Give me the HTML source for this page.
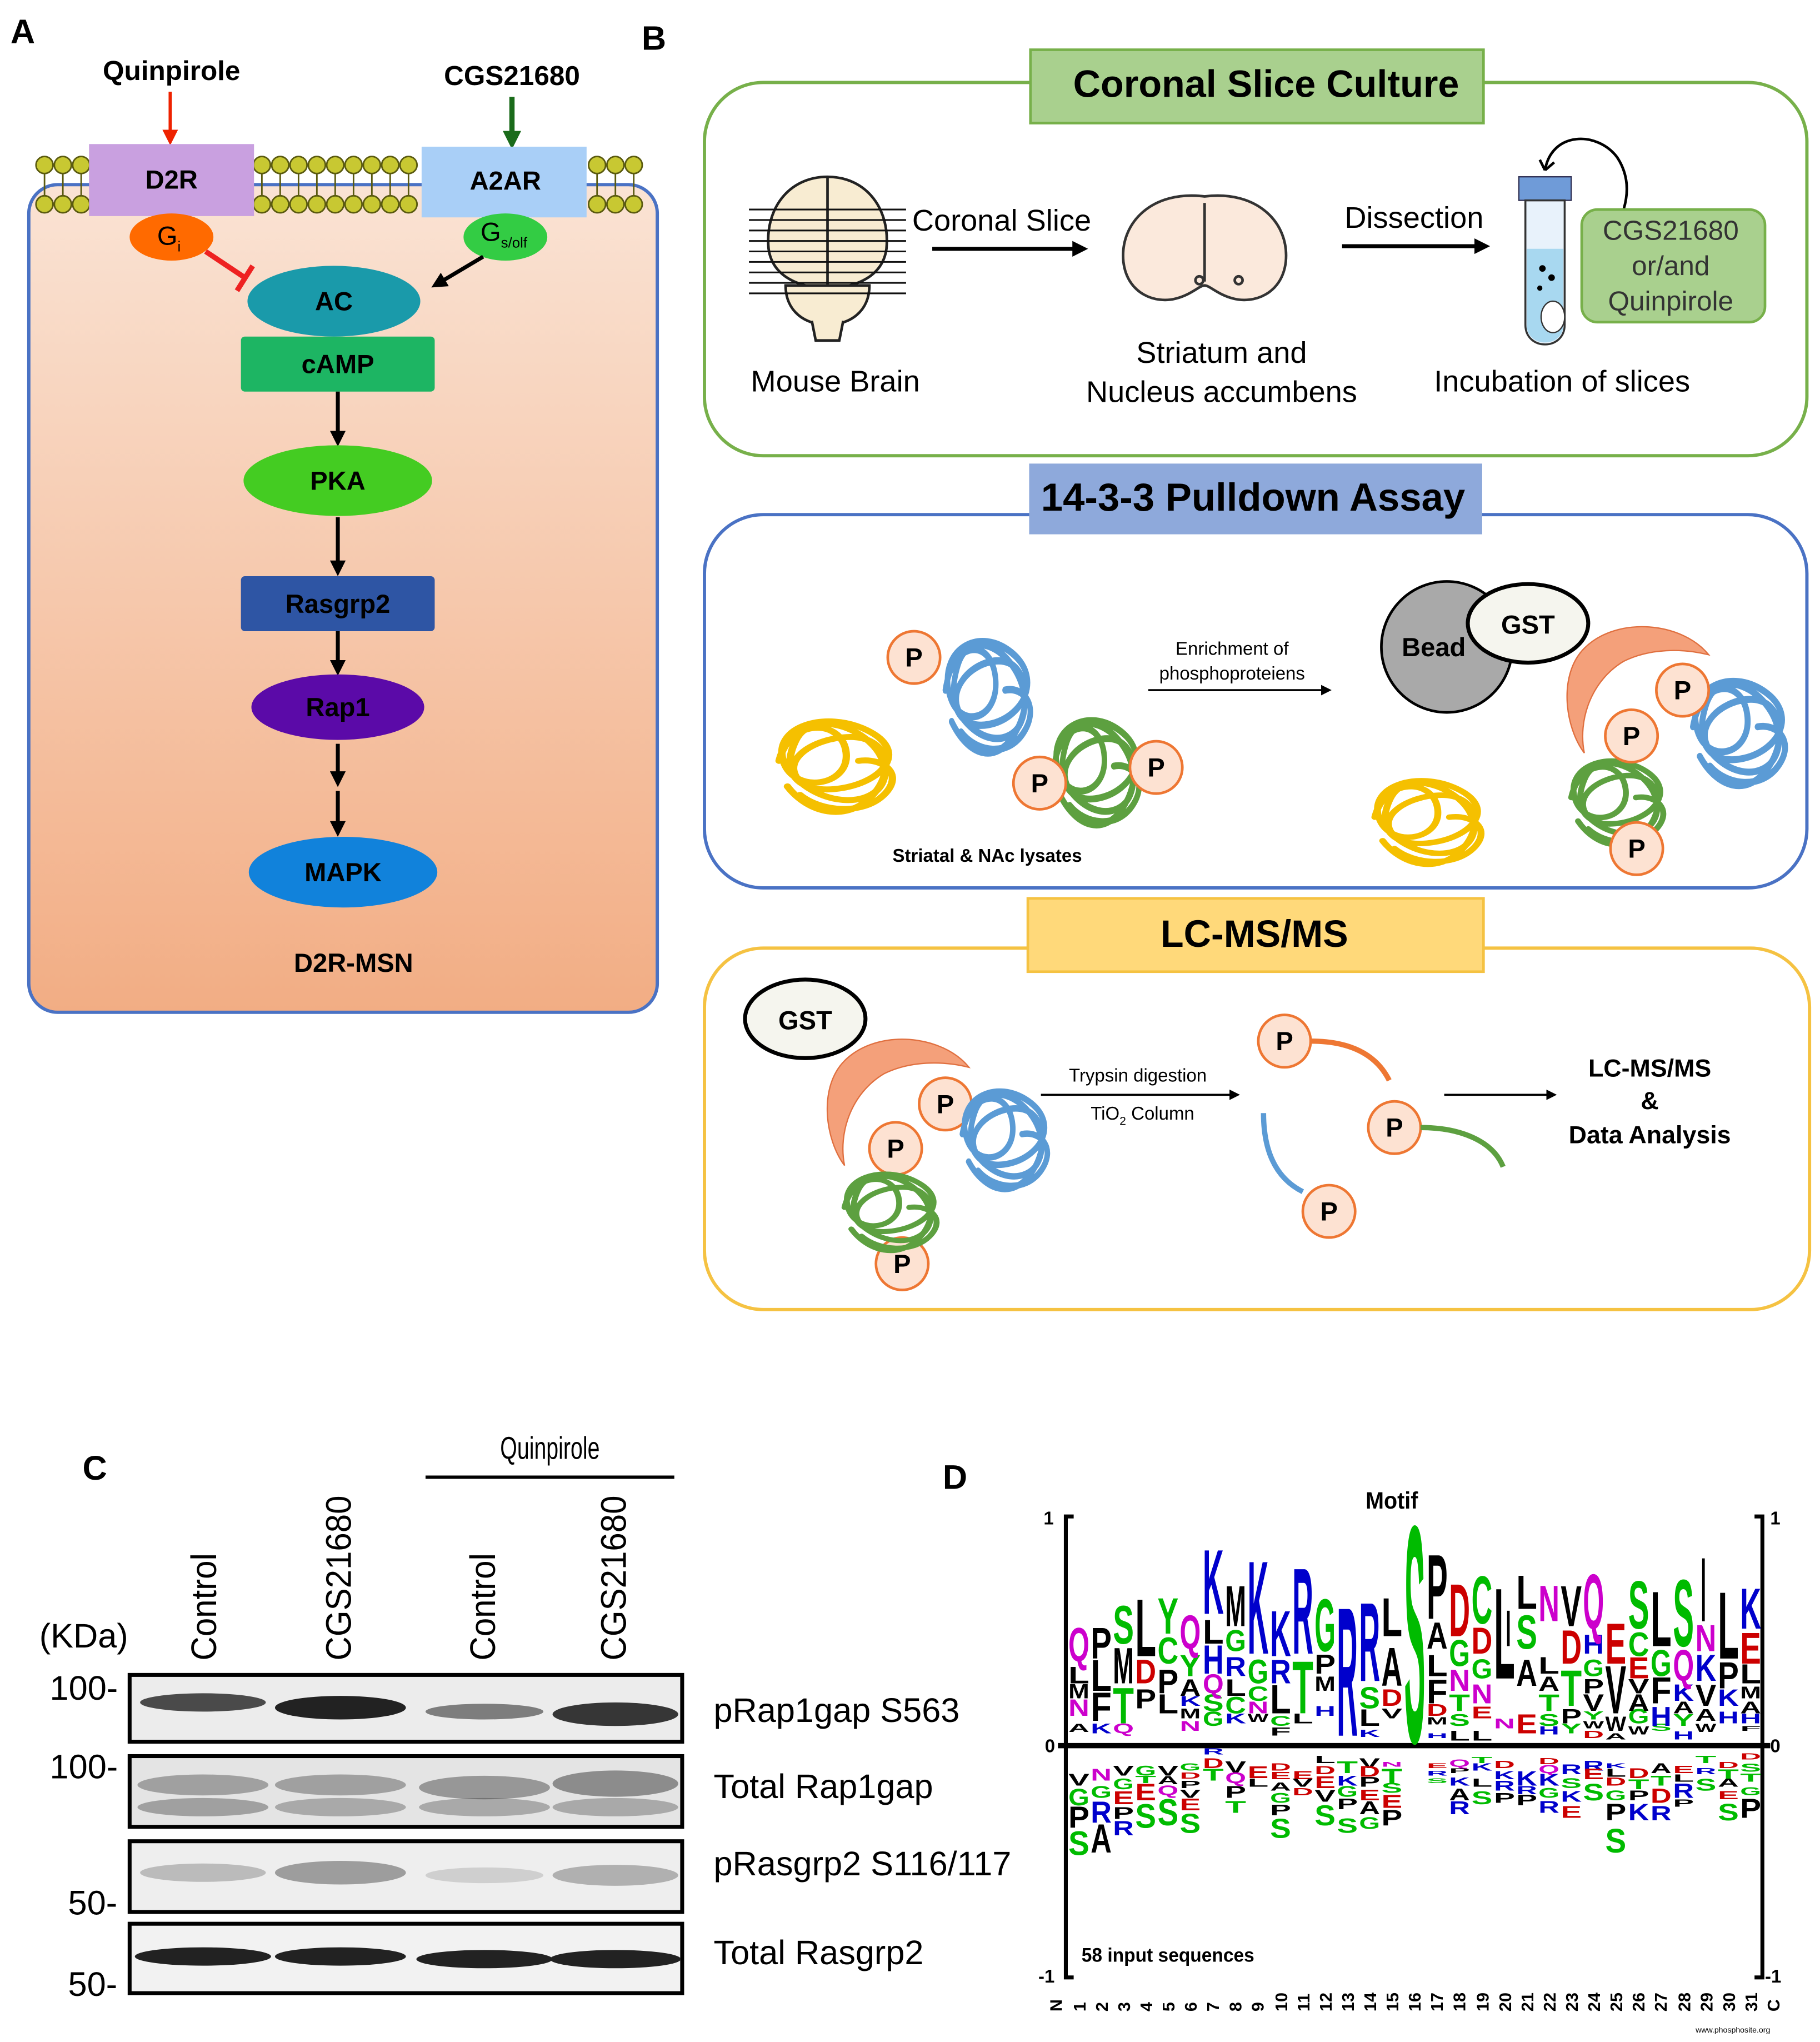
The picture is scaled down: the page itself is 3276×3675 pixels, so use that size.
<!DOCTYPE html>
<html><head><meta charset="utf-8"><style>
html,body{margin:0;padding:0;background:#fff}
svg{display:block}
text{font-family:"Liberation Sans",Arial,sans-serif}
.k{fill:#000}.b{fill:#0000cc}.g{fill:#00bb00}.r{fill:#cc0000}.m{fill:#cc00cc}
.lg text{font-weight:bold}
</style></head><body>
<svg width="3276" height="3675" viewBox="0 0 1390 1559.3" xmlns="http://www.w3.org/2000/svg">
<defs>
<linearGradient id="cell" x1="0" y1="0" x2="0" y2="1"><stop offset="0" stop-color="#fae3d4"/><stop offset="1" stop-color="#f2ad84"/></linearGradient>
<marker id="ak" markerWidth="8" markerHeight="8" refX="6" refY="4" orient="auto" markerUnits="userSpaceOnUse"><path d="M0,0 L8,4 L0,8 z" fill="#000"/></marker>
<marker id="ak2" markerWidth="12" markerHeight="12" refX="9" refY="6" orient="auto" markerUnits="userSpaceOnUse"><path d="M0,0 L12,6 L0,12 z" fill="#000"/></marker>
<marker id="ar" markerWidth="12" markerHeight="12" refX="9" refY="6" orient="auto" markerUnits="userSpaceOnUse"><path d="M0,0 L12,6 L0,12 z" fill="#ee2200"/></marker>
<marker id="ag" markerWidth="14" markerHeight="14" refX="10" refY="7" orient="auto" markerUnits="userSpaceOnUse"><path d="M0,0 L14,7 L0,14 z" fill="#1a6b1a"/></marker>
<path id="tang" d="M0,20 c5,-25 30,-25 32,-5 s-25,25 -30,5 s20,-30 40,-18 s8,30 -12,34 s-30,-8 -22,-28 s38,-6 42,14 s-18,28 -36,14 s2,-30 20,-30 s22,20 10,35 s-30,10 -40,-6 M10,40 c10,10 30,12 40,0 s0,-22 -12,-20" fill="none" stroke-width="3.5" stroke-linecap="round"/>
</defs>
<rect width="1390" height="1560" fill="#fff"/>

<!-- ============ PANEL A ============ -->
<text x="8" y="33" font-size="26" font-weight="bold">A</text>
<rect x="22" y="141" width="480" height="632" rx="22" fill="url(#cell)" stroke="#4a72c4" stroke-width="2.5"/>
<g stroke="#5a5a10" stroke-width="1.2" fill="#c8c832">
<g id="row1">
<circle cx="34" cy="126" r="6.5"/><circle cx="48" cy="126" r="6.5"/><circle cx="62" cy="126" r="6.5"/><circle cx="200" cy="126" r="6.5"/><circle cx="214" cy="126" r="6.5"/><circle cx="228" cy="126" r="6.5"/><circle cx="242" cy="126" r="6.5"/><circle cx="256" cy="126" r="6.5"/><circle cx="270" cy="126" r="6.5"/><circle cx="284" cy="126" r="6.5"/><circle cx="298" cy="126" r="6.5"/><circle cx="312" cy="126" r="6.5"/><circle cx="456" cy="126" r="6.5"/><circle cx="470" cy="126" r="6.5"/><circle cx="484" cy="126" r="6.5"/>
</g>
<use href="#row1" y="30"/>
</g>
<g stroke="#5a5a10" stroke-width="1.2">
<path d="M34,133v16M48,133v16M62,133v16M200,133v16M214,133v16M228,133v16M242,133v16M256,133v16M270,133v16M284,133v16M298,133v16M312,133v16M456,133v16M470,133v16M484,133v16"/>
</g>
<text x="131" y="61" font-size="21" font-weight="bold" text-anchor="middle">Quinpirole</text>
<text x="391" y="65" font-size="21" font-weight="bold" text-anchor="middle">CGS21680</text>
<line x1="130" y1="70" x2="130" y2="108" stroke="#ee2200" stroke-width="2.5" marker-end="url(#ar)"/>
<line x1="391" y1="74" x2="391" y2="110" stroke="#1a6b1a" stroke-width="4" marker-end="url(#ag)"/>
<rect x="68" y="110" width="126" height="55" fill="#c9a0e0"/>
<text x="131" y="144" font-size="20" font-weight="bold" text-anchor="middle">D2R</text>
<rect x="322" y="112" width="126" height="54" fill="#a9cff7"/>
<text x="386" y="145" font-size="20" font-weight="bold" text-anchor="middle">A2AR</text>
<ellipse cx="131" cy="181" rx="32" ry="18" fill="#ff6a00"/>
<text x="120" y="187" font-size="20">G<tspan font-size="11" dy="5">i</tspan></text>
<ellipse cx="386" cy="181" rx="32" ry="18" fill="#33cc44"/>
<text x="367" y="184" font-size="20">G<tspan font-size="11" dy="5">s/olf</tspan></text>
<line x1="157" y1="192" x2="187" y2="212" stroke="#ee2222" stroke-width="4"/>
<line x1="181" y1="222" x2="193" y2="203" stroke="#ee2222" stroke-width="4"/>
<line x1="369" y1="196" x2="332" y2="218" stroke="#000" stroke-width="3" marker-end="url(#ak2)"/>
<ellipse cx="255" cy="230" rx="66" ry="27" fill="#1a9aaa"/>
<text x="255" y="237" font-size="20" font-weight="bold" text-anchor="middle">AC</text>
<rect x="184" y="257" width="148" height="42" rx="3" fill="#1db563"/>
<text x="258" y="285" font-size="20" font-weight="bold" text-anchor="middle">cAMP</text>
<line x1="258" y1="299" x2="258" y2="338" stroke="#000" stroke-width="3" marker-end="url(#ak2)"/>
<ellipse cx="258" cy="367" rx="72" ry="27" fill="#44cc22"/>
<text x="258" y="374" font-size="20" font-weight="bold" text-anchor="middle">PKA</text>
<line x1="258" y1="395" x2="258" y2="437" stroke="#000" stroke-width="3" marker-end="url(#ak2)"/>
<rect x="184" y="440" width="148" height="42" rx="3" fill="#2e55a4"/>
<text x="258" y="468" font-size="20" font-weight="bold" text-anchor="middle">Rasgrp2</text>
<line x1="258" y1="482" x2="258" y2="513" stroke="#000" stroke-width="3" marker-end="url(#ak2)"/>
<ellipse cx="258" cy="540" rx="66" ry="25" fill="#5b0aa8"/>
<text x="258" y="547" font-size="20" font-weight="bold" text-anchor="middle">Rap1</text>
<line x1="258" y1="568" x2="258" y2="598" stroke="#000" stroke-width="3" marker-end="url(#ak2)"/>
<line x1="258" y1="604" x2="258" y2="636" stroke="#000" stroke-width="3" marker-end="url(#ak2)"/>
<ellipse cx="262" cy="666" rx="72" ry="27" fill="#1182db"/>
<text x="262" y="673" font-size="20" font-weight="bold" text-anchor="middle">MAPK</text>
<text x="270" y="742" font-size="20" font-weight="bold" text-anchor="middle">D2R-MSN</text>

<!-- ============ PANEL B ============ -->
<text x="490" y="38" font-size="26" font-weight="bold">B</text>
<rect x="538" y="63" width="842" height="285" rx="45" fill="none" stroke="#77b04a" stroke-width="2.5"/>
<rect x="787" y="38" width="346" height="56" fill="#a9d08e" stroke="#77b04a" stroke-width="2"/>
<text x="967" y="74" font-size="29" font-weight="bold" text-anchor="middle">Coronal Slice Culture</text>
<!-- brain -->
<g stroke="#222" stroke-width="2" fill="#f8ecd2">
<path d="M632,135 c-30,0 -48,25 -45,55 c3,22 25,30 45,30 c20,0 42,-8 45,-30 c3,-30 -15,-55 -45,-55z"/>
<line x1="632" y1="135" x2="632" y2="220"/>
<path d="M600,218 c0,20 15,30 32,30 c17,0 32,-10 32,-30z"/>
<path d="M620,245 l3,15 l18,0 l3,-15"/>
</g>
<g stroke="#111" stroke-width="1.3">
<path d="M572,160H692M572,168H692M572,176H692M572,184H692M572,192H692M572,200H692M572,208H692M572,216H692M572,224H692"/>
</g>
<text x="765" y="176" font-size="23" text-anchor="middle">Coronal Slice</text>
<line x1="712" y1="190" x2="828" y2="190" stroke="#000" stroke-width="3" marker-end="url(#ak2)"/>
<text x="638" y="299" font-size="23" text-anchor="middle">Mouse Brain</text>
<g stroke="#333" stroke-width="2" fill="#fbe9dc">
<path d="M920,150 c-40,-5 -65,20 -62,50 c3,25 25,32 40,28 c12,-3 18,-10 22,-10 c4,0 10,7 22,10 c15,4 37,-3 40,-28 c3,-30 -22,-55 -62,-50z"/>
<path d="M920,155 v60" fill="none"/>
<circle cx="916" cy="214" r="3"/><circle cx="946" cy="214" r="3"/>
</g>
<text x="933" y="277" font-size="23" text-anchor="middle">Striatum and</text>
<text x="933" y="307" font-size="23" text-anchor="middle">Nucleus accumbens</text>
<text x="1080" y="174" font-size="23" text-anchor="middle">Dissection</text>
<line x1="1025" y1="188" x2="1135" y2="188" stroke="#000" stroke-width="3" marker-end="url(#ak2)"/>
<!-- tube -->
<rect x="1160" y="135" width="40" height="18" fill="#6f9bd8" stroke="#335" stroke-width="1"/>
<path d="M1165,153 v95 c0,20 30,20 30,0 v-95z" fill="#e8f2fb" stroke="#333" stroke-width="1.5"/>
<path d="M1166,190 v58 c0,18 28,18 28,0 v-58z" fill="#a8d8f0"/>
<circle cx="1178" cy="205" r="2.5"/><circle cx="1185" cy="212" r="2.5"/><circle cx="1176" cy="220" r="2"/>
<ellipse cx="1186" cy="242" rx="9" ry="12" fill="#fff" stroke="#333"/>
<path d="M1180,130 c5,-30 40,-30 55,-10 c10,15 8,30 5,40" fill="none" stroke="#000" stroke-width="2"/>
<path d="M1180,130 l-4,-8 M1180,130 l7,-6" stroke="#000" stroke-width="2"/>
<rect x="1208" y="160" width="140" height="86" rx="12" fill="#a9d08e" stroke="#77b04a" stroke-width="2"/>
<text x="1276" y="183" font-size="21" fill="#333" text-anchor="middle">CGS21680</text>
<text x="1276" y="210" font-size="21" fill="#333" text-anchor="middle">or/and</text>
<text x="1276" y="237" font-size="21" fill="#333" text-anchor="middle">Quinpirole</text>
<text x="1193" y="299" font-size="23" text-anchor="middle">Incubation of slices</text>

<!-- Pulldown -->
<rect x="538" y="393" width="842" height="285" rx="45" fill="none" stroke="#4a72c4" stroke-width="2.5"/>
<rect x="786" y="354" width="346" height="54" fill="#8ea9db"/>
<text x="957" y="390" font-size="30" font-weight="bold" text-anchor="middle">14-3-3 Pulldown Assay</text>
<use href="#tang" stroke="#f5c000" transform="translate(595,555) scale(1.6,1.3)"/>
<use href="#tang" stroke="#5b9bd5" transform="translate(722,495) scale(1.2,1.6)"/>
<use href="#tang" stroke="#5da040" transform="translate(805,555) scale(1.2,1.5)"/>
<use href="#tang" stroke="#f5c000" transform="translate(1050,600) scale(1.5,1.2)"/>
<use href="#tang" stroke="#5b9bd5" transform="translate(1293,525) scale(1.3,1.5)"/>
<use href="#tang" stroke="#5da040" transform="translate(1200,585) scale(1.3,1.2)"/>
<text x="754" y="658" font-size="14" font-weight="bold" text-anchor="middle">Striatal &amp; NAc lysates</text>
<text x="941" y="500" font-size="14" text-anchor="middle">Enrichment of</text>
<text x="941" y="519" font-size="14" text-anchor="middle">phosphoproteiens</text>
<line x1="877" y1="527" x2="1015" y2="527" stroke="#000" stroke-width="1.5" marker-end="url(#ak)"/>
<circle cx="1105" cy="494" r="50" fill="#a9a9a9" stroke="#000" stroke-width="2"/>
<text x="1095" y="501" font-size="20" font-weight="bold" text-anchor="middle">Bead</text>
<ellipse cx="1167" cy="476" rx="46" ry="30" fill="#f5f5ee" stroke="#000" stroke-width="3"/>
<text x="1167" y="484" font-size="20" font-weight="bold" text-anchor="middle">GST</text>
<path d="M1305,500 c-20,-25 -70,-30 -95,-5 c-20,20 -15,60 0,80 c-5,-25 5,-55 30,-70 c20,-10 45,-10 65,-5z" fill="#f4a07a" stroke="#e07040"/>
<g stroke="#ee7733" stroke-width="2" fill="#fde2d2">
<circle cx="698" cy="502" r="20"/><circle cx="794" cy="598" r="20"/><circle cx="883" cy="586" r="20"/>
<circle cx="1285" cy="527" r="20"/><circle cx="1246" cy="562" r="20"/><circle cx="1250" cy="648" r="20"/>
<circle cx="981" cy="795" r="20"/><circle cx="1065" cy="861" r="20"/><circle cx="1015" cy="925" r="20"/>
<circle cx="722" cy="843" r="20"/><circle cx="684" cy="877" r="20"/><circle cx="689" cy="965" r="20"/>
</g>
<g font-size="20" font-weight="bold" text-anchor="middle">
<text x="698" y="509">P</text><text x="794" y="605">P</text><text x="883" y="593">P</text>
<text x="1285" y="534">P</text><text x="1246" y="569">P</text><text x="1250" y="655">P</text>
<text x="981" y="802">P</text><text x="1065" y="868">P</text><text x="1015" y="932">P</text>
<text x="722" y="850">P</text><text x="684" y="884">P</text><text x="689" y="972">P</text>
</g>

<!-- LC-MS -->
<rect x="538" y="724" width="844" height="276" rx="45" fill="none" stroke="#f5c242" stroke-width="2.5"/>
<rect x="785" y="686" width="348" height="56" fill="#ffd97a" stroke="#f5c242" stroke-width="2"/>
<text x="958" y="723" font-size="29" font-weight="bold" text-anchor="middle">LC-MS/MS</text>
<ellipse cx="615" cy="778" rx="46" ry="30" fill="#f5f5ee" stroke="#000" stroke-width="3"/>
<text x="615" y="786" font-size="20" font-weight="bold" text-anchor="middle">GST</text>
<path d="M710,815 c-20,-25 -70,-30 -95,-5 c-20,20 -15,60 0,80 c-5,-25 5,-55 30,-70 c20,-10 45,-10 65,-5z" fill="#f4a07a" stroke="#e07040" transform="translate(30,0)"/>
<use href="#tang" stroke="#5b9bd5" transform="translate(735,838) scale(1.2,1.4)"/>
<use href="#tang" stroke="#5da040" transform="translate(645,900) scale(1.3,1.1)"/>
<text x="869" y="826" font-size="14" text-anchor="middle">Trypsin digestion</text>
<line x1="795" y1="836" x2="945" y2="836" stroke="#000" stroke-width="1.5" marker-end="url(#ak)"/>
<text x="833" y="855" font-size="14">TiO<tspan font-size="9" dy="4">2</tspan><tspan dy="-4"> Column</tspan></text>
<path d="M1001,795 c30,0 50,10 60,30" fill="none" stroke="#ee7733" stroke-width="4"/>
<path d="M1085,861 c30,0 55,10 63,30" fill="none" stroke="#5da040" stroke-width="4"/>
<path d="M965,850 c0,30 10,50 30,60" fill="none" stroke="#5b9bd5" stroke-width="4"/>
<line x1="1103" y1="836" x2="1187" y2="836" stroke="#000" stroke-width="1.5" marker-end="url(#ak)"/>
<text x="1260" y="822" font-size="19" font-weight="bold" text-anchor="middle">LC-MS/MS</text>
<text x="1260" y="847" font-size="19" font-weight="bold" text-anchor="middle">&amp;</text>
<text x="1260" y="873" font-size="19" font-weight="bold" text-anchor="middle">Data Analysis</text>

<!-- ============ PANEL C ============ -->
<text x="63" y="1130" font-size="26" font-weight="bold">C</text>
<text x="420" y="1114" font-size="24" text-anchor="middle" textLength="76" lengthAdjust="spacingAndGlyphs">Quinpirole</text>
<line x1="325" y1="1128" x2="515" y2="1128" stroke="#000" stroke-width="2.5"/>
<g font-size="27">
<text transform="translate(165,1268) rotate(-90)" textLength="82" lengthAdjust="spacingAndGlyphs">Control</text>
<text transform="translate(268,1268) rotate(-90)" textLength="126" lengthAdjust="spacingAndGlyphs">CGS21680</text>
<text transform="translate(378,1268) rotate(-90)" textLength="82" lengthAdjust="spacingAndGlyphs">Control</text>
<text transform="translate(478,1268) rotate(-90)" textLength="126" lengthAdjust="spacingAndGlyphs">CGS21680</text>
</g>
<text x="30" y="1258" font-size="26">(KDa)</text>
<rect x="99" y="1279" width="422" height="51" fill="#ececec" stroke="#000" stroke-width="3"/>
<rect x="99" y="1341" width="422" height="54" fill="#e4e4e4" stroke="#000" stroke-width="3"/>
<rect x="99" y="1406" width="422" height="54" fill="#eeeeee" stroke="#000" stroke-width="3"/>
<rect x="99" y="1469" width="422" height="53" fill="#f2f2f2" stroke="#000" stroke-width="3"/>
<g fill="#222">
<ellipse cx="155" cy="1300" rx="48" ry="7" opacity="0.8"/><ellipse cx="260" cy="1304" rx="50" ry="9"/><ellipse cx="370" cy="1307" rx="45" ry="6" opacity="0.55"/><ellipse cx="470" cy="1309" rx="48" ry="9" opacity="0.9"/>
<ellipse cx="155" cy="1363" rx="50" ry="8" opacity="0.35"/><ellipse cx="260" cy="1363" rx="50" ry="8" opacity="0.35"/><ellipse cx="370" cy="1365" rx="50" ry="9" opacity="0.4"/><ellipse cx="470" cy="1362" rx="48" ry="10" opacity="0.45"/>
<ellipse cx="155" cy="1380" rx="50" ry="7" opacity="0.35"/><ellipse cx="260" cy="1380" rx="50" ry="7" opacity="0.3"/><ellipse cx="370" cy="1380" rx="50" ry="7" opacity="0.3"/><ellipse cx="470" cy="1380" rx="48" ry="7" opacity="0.3"/>
<ellipse cx="155" cy="1430" rx="48" ry="7" opacity="0.25"/><ellipse cx="260" cy="1430" rx="50" ry="9" opacity="0.4"/><ellipse cx="370" cy="1432" rx="45" ry="6" opacity="0.15"/><ellipse cx="470" cy="1432" rx="48" ry="8" opacity="0.3"/>
<ellipse cx="155" cy="1494" rx="52" ry="7"/><ellipse cx="260" cy="1494" rx="50" ry="7"/><ellipse cx="370" cy="1496" rx="52" ry="7"/><ellipse cx="470" cy="1496" rx="50" ry="7"/>
</g>
<g font-size="26">
<text x="38" y="1298">100-</text><text x="38" y="1358">100-</text><text x="52" y="1462">50-</text><text x="52" y="1524">50-</text>
<text x="545" y="1315">pRap1gap S563</text><text x="545" y="1373">Total Rap1gap</text><text x="545" y="1432">pRasgrp2 S116/117</text><text x="545" y="1500">Total Rasgrp2</text>
</g>

<!-- ============ PANEL D ============ -->
<text x="720" y="1137" font-size="26" font-weight="bold">D</text>
<text x="1063" y="1152" font-size="18" font-weight="bold" font-family="Liberation Serif,serif" text-anchor="middle" textLength="40" lengthAdjust="spacingAndGlyphs">Motif</text>
<g stroke="#000" fill="none">
<path d="M820,1158 H814 V1510 H820" stroke-width="3"/>
<path d="M1340,1158 H1346 V1510 H1340" stroke-width="3"/>
<line x1="808" y1="1333" x2="1352" y2="1333" stroke-width="4"/>
</g>
<g font-size="14" font-weight="bold">
<text x="797" y="1164">1</text><text x="1352" y="1164">1</text>
<text x="798" y="1338">0</text><text x="1352" y="1338">0</text>
<text x="793" y="1514">-1</text><text x="1348" y="1514">-1</text>
</g>
<text x="826" y="1498" font-size="15" font-weight="bold" textLength="132" lengthAdjust="spacingAndGlyphs">58 input sequences</text>
<g font-size="13" font-weight="bold">
<text transform="translate(811,1536) rotate(-90)">N</text>
<text transform="translate(829,1536) rotate(-90)">1</text><text transform="translate(846,1536) rotate(-90)">2</text><text transform="translate(863,1536) rotate(-90)">3</text><text transform="translate(880,1536) rotate(-90)">4</text><text transform="translate(897,1536) rotate(-90)">5</text><text transform="translate(914,1536) rotate(-90)">6</text><text transform="translate(931,1536) rotate(-90)">7</text><text transform="translate(948,1536) rotate(-90)">8</text><text transform="translate(965,1536) rotate(-90)">9</text><text transform="translate(983,1536) rotate(-90)">10</text><text transform="translate(1000,1536) rotate(-90)">11</text><text transform="translate(1017,1536) rotate(-90)">12</text><text transform="translate(1034,1536) rotate(-90)">13</text><text transform="translate(1051,1536) rotate(-90)">14</text><text transform="translate(1068,1536) rotate(-90)">15</text><text transform="translate(1085,1536) rotate(-90)">16</text><text transform="translate(1102,1536) rotate(-90)">17</text><text transform="translate(1119,1536) rotate(-90)">18</text><text transform="translate(1137,1536) rotate(-90)">19</text><text transform="translate(1154,1536) rotate(-90)">20</text><text transform="translate(1171,1536) rotate(-90)">21</text><text transform="translate(1188,1536) rotate(-90)">22</text><text transform="translate(1205,1536) rotate(-90)">23</text><text transform="translate(1222,1536) rotate(-90)">24</text><text transform="translate(1239,1536) rotate(-90)">25</text><text transform="translate(1256,1536) rotate(-90)">26</text><text transform="translate(1273,1536) rotate(-90)">27</text><text transform="translate(1291,1536) rotate(-90)">28</text><text transform="translate(1308,1536) rotate(-90)">29</text><text transform="translate(1325,1536) rotate(-90)">30</text><text transform="translate(1342,1536) rotate(-90)">31</text>
<text transform="translate(1359,1536) rotate(-90)">C</text>
</g>
<text x="1295" y="1552" font-size="6">www.phosphosite.org</text>
<line x1="1152" y1="1230" x2="1152" y2="1257" stroke="#000" stroke-width="2"/>
<line x1="1301" y1="1190" x2="1301" y2="1238" stroke="#000" stroke-width="2"/>

<g class="lg" transform="translate(0,1125.9) scale(1,0.19)">
<!-- C1 -->
<text class="k" x="816" y="1035" font-size="48" textLength="16" lengthAdjust="spacingAndGlyphs">A</text>
<text class="m" x="816" y="970" font-size="96" textLength="16" lengthAdjust="spacingAndGlyphs">N</text>
<text class="k" x="816" y="900" font-size="82" textLength="16" lengthAdjust="spacingAndGlyphs">M</text>
<text class="k" x="816" y="840" font-size="96" textLength="16" lengthAdjust="spacingAndGlyphs">L</text>
<text class="m" x="816" y="750" font-size="192" textLength="16" lengthAdjust="spacingAndGlyphs">Q</text>
<text class="k" x="816" y="1250" font-size="68" textLength="16" lengthAdjust="spacingAndGlyphs">V</text>
<text class="g" x="816" y="1330" font-size="96" textLength="16" lengthAdjust="spacingAndGlyphs">G</text>
<text class="k" x="816" y="1420" font-size="123" textLength="16" lengthAdjust="spacingAndGlyphs">P</text>
<text class="g" x="816" y="1530" font-size="137" textLength="16" lengthAdjust="spacingAndGlyphs">S</text>
<!-- C2 -->
<text class="b" x="833" y="1040" font-size="55" textLength="16" lengthAdjust="spacingAndGlyphs">K</text>
<text class="k" x="833" y="990" font-size="164" textLength="16" lengthAdjust="spacingAndGlyphs">F</text>
<text class="k" x="833" y="870" font-size="178" textLength="16" lengthAdjust="spacingAndGlyphs">L</text>
<text class="k" x="833" y="740" font-size="178" textLength="16" lengthAdjust="spacingAndGlyphs">P</text>
<text class="m" x="833" y="1230" font-size="68" textLength="16" lengthAdjust="spacingAndGlyphs">N</text>
<text class="g" x="833" y="1300" font-size="68" textLength="16" lengthAdjust="spacingAndGlyphs">G</text>
<text class="b" x="833" y="1400" font-size="123" textLength="16" lengthAdjust="spacingAndGlyphs">R</text>
<text class="k" x="833" y="1520" font-size="164" textLength="16" lengthAdjust="spacingAndGlyphs">A</text>
<!-- C3 -->
<text class="m" x="850" y="1040" font-size="55" textLength="16" lengthAdjust="spacingAndGlyphs">Q</text>
<text class="g" x="850" y="1000" font-size="205" textLength="16" lengthAdjust="spacingAndGlyphs">T</text>
<text class="k" x="850" y="840" font-size="205" textLength="16" lengthAdjust="spacingAndGlyphs">M</text>
<text class="g" x="850" y="680" font-size="219" textLength="16" lengthAdjust="spacingAndGlyphs">S</text>
<text class="k" x="850" y="1210" font-size="55" textLength="16" lengthAdjust="spacingAndGlyphs">V</text>
<text class="g" x="850" y="1265" font-size="62" textLength="16" lengthAdjust="spacingAndGlyphs">G</text>
<text class="r" x="850" y="1325" font-size="75" textLength="16" lengthAdjust="spacingAndGlyphs">E</text>
<text class="k" x="850" y="1385" font-size="68" textLength="16" lengthAdjust="spacingAndGlyphs">P</text>
<text class="b" x="850" y="1450" font-size="82" textLength="16" lengthAdjust="spacingAndGlyphs">R</text>
<!-- C4 -->
<text class="k" x="867" y="940" font-size="110" textLength="16" lengthAdjust="spacingAndGlyphs">P</text>
<text class="r" x="867" y="840" font-size="137" textLength="16" lengthAdjust="spacingAndGlyphs">D</text>
<text class="k" x="867" y="730" font-size="329" textLength="16" lengthAdjust="spacingAndGlyphs">L</text>
<text class="g" x="867" y="1210" font-size="55" textLength="16" lengthAdjust="spacingAndGlyphs">G</text>
<text class="g" x="867" y="1240" font-size="41" textLength="16" lengthAdjust="spacingAndGlyphs">T</text>
<text class="r" x="867" y="1310" font-size="96" textLength="16" lengthAdjust="spacingAndGlyphs">E</text>
<text class="g" x="867" y="1420" font-size="137" textLength="16" lengthAdjust="spacingAndGlyphs">S</text>
<!-- C5 -->
<text class="k" x="884" y="960" font-size="110" textLength="16" lengthAdjust="spacingAndGlyphs">L</text>
<text class="k" x="884" y="880" font-size="137" textLength="16" lengthAdjust="spacingAndGlyphs">P</text>
<text class="g" x="884" y="760" font-size="151" textLength="16" lengthAdjust="spacingAndGlyphs">C</text>
<text class="g" x="884" y="640" font-size="205" textLength="16" lengthAdjust="spacingAndGlyphs">Y</text>
<text class="k" x="884" y="1210" font-size="55" textLength="16" lengthAdjust="spacingAndGlyphs">V</text>
<text class="k" x="884" y="1245" font-size="48" textLength="16" lengthAdjust="spacingAndGlyphs">A</text>
<text class="m" x="884" y="1290" font-size="55" textLength="16" lengthAdjust="spacingAndGlyphs">Q</text>
<text class="g" x="884" y="1410" font-size="151" textLength="16" lengthAdjust="spacingAndGlyphs">S</text>
<!-- C6 -->
<text class="m" x="901" y="1030" font-size="55" textLength="16" lengthAdjust="spacingAndGlyphs">N</text>
<text class="k" x="901" y="980" font-size="55" textLength="16" lengthAdjust="spacingAndGlyphs">M</text>
<text class="b" x="901" y="930" font-size="55" textLength="16" lengthAdjust="spacingAndGlyphs">K</text>
<text class="k" x="901" y="890" font-size="96" textLength="16" lengthAdjust="spacingAndGlyphs">A</text>
<text class="g" x="901" y="810" font-size="123" textLength="16" lengthAdjust="spacingAndGlyphs">Y</text>
<text class="m" x="901" y="700" font-size="192" textLength="16" lengthAdjust="spacingAndGlyphs">Q</text>
<text class="g" x="901" y="1190" font-size="41" textLength="16" lengthAdjust="spacingAndGlyphs">G</text>
<text class="r" x="901" y="1222" font-size="34" textLength="16" lengthAdjust="spacingAndGlyphs">D</text>
<text class="k" x="901" y="1260" font-size="41" textLength="16" lengthAdjust="spacingAndGlyphs">P</text>
<text class="k" x="901" y="1300" font-size="48" textLength="16" lengthAdjust="spacingAndGlyphs">V</text>
<text class="r" x="901" y="1350" font-size="68" textLength="16" lengthAdjust="spacingAndGlyphs">E</text>
<text class="g" x="901" y="1440" font-size="110" textLength="16" lengthAdjust="spacingAndGlyphs">S</text>
<!-- C7 -->
<text class="g" x="918.6" y="1010" font-size="82" textLength="16" lengthAdjust="spacingAndGlyphs">G</text>
<text class="g" x="918.6" y="950" font-size="96" textLength="16" lengthAdjust="spacingAndGlyphs">S</text>
<text class="m" x="918.6" y="880" font-size="110" textLength="16" lengthAdjust="spacingAndGlyphs">Q</text>
<text class="b" x="918.6" y="800" font-size="164" textLength="16" lengthAdjust="spacingAndGlyphs">H</text>
<text class="k" x="918.6" y="680" font-size="137" textLength="16" lengthAdjust="spacingAndGlyphs">L</text>
<text class="b" x="918.6" y="560" font-size="370" textLength="16" lengthAdjust="spacingAndGlyphs">K</text>
<text class="b" x="918.6" y="1125" font-size="34" textLength="16" lengthAdjust="spacingAndGlyphs">R</text>
<text class="r" x="918.6" y="1180" font-size="55" textLength="16" lengthAdjust="spacingAndGlyphs">D</text>
<text class="g" x="918.6" y="1230" font-size="68" textLength="16" lengthAdjust="spacingAndGlyphs">T</text>
<!-- C8 -->
<text class="b" x="935.7" y="1000" font-size="55" textLength="16" lengthAdjust="spacingAndGlyphs">K</text>
<text class="g" x="935.7" y="960" font-size="96" textLength="16" lengthAdjust="spacingAndGlyphs">C</text>
<text class="k" x="935.7" y="890" font-size="96" textLength="16" lengthAdjust="spacingAndGlyphs">L</text>
<text class="b" x="935.7" y="810" font-size="110" textLength="16" lengthAdjust="spacingAndGlyphs">R</text>
<text class="g" x="935.7" y="710" font-size="123" textLength="16" lengthAdjust="spacingAndGlyphs">G</text>
<text class="k" x="935.7" y="610" font-size="233" textLength="16" lengthAdjust="spacingAndGlyphs">M</text>
<text class="k" x="935.7" y="1200" font-size="68" textLength="16" lengthAdjust="spacingAndGlyphs">V</text>
<text class="m" x="935.7" y="1240" font-size="62" textLength="16" lengthAdjust="spacingAndGlyphs">Q</text>
<text class="k" x="935.7" y="1300" font-size="68" textLength="16" lengthAdjust="spacingAndGlyphs">P</text>
<text class="g" x="935.7" y="1360" font-size="68" textLength="16" lengthAdjust="spacingAndGlyphs">T</text>
<!-- C9 -->
<text class="k" x="952.8" y="995" font-size="48" textLength="16" lengthAdjust="spacingAndGlyphs">W</text>
<text class="m" x="952.8" y="960" font-size="68" textLength="16" lengthAdjust="spacingAndGlyphs">N</text>
<text class="g" x="952.8" y="910" font-size="82" textLength="16" lengthAdjust="spacingAndGlyphs">C</text>
<text class="g" x="952.8" y="840" font-size="137" textLength="16" lengthAdjust="spacingAndGlyphs">G</text>
<text class="b" x="952.8" y="720" font-size="534" textLength="16" lengthAdjust="spacingAndGlyphs">K</text>
<text class="r" x="952.8" y="1220" font-size="68" textLength="16" lengthAdjust="spacingAndGlyphs">E</text>
<text class="k" x="952.8" y="1255" font-size="48" textLength="16" lengthAdjust="spacingAndGlyphs">L</text>
<!-- C10 -->
<text class="k" x="970" y="1050" font-size="48" textLength="16" lengthAdjust="spacingAndGlyphs">F</text>
<text class="g" x="970" y="1010" font-size="55" textLength="16" lengthAdjust="spacingAndGlyphs">C</text>
<text class="k" x="970" y="960" font-size="164" textLength="16" lengthAdjust="spacingAndGlyphs">L</text>
<text class="b" x="970" y="840" font-size="137" textLength="16" lengthAdjust="spacingAndGlyphs">R</text>
<text class="b" x="970" y="730" font-size="260" textLength="16" lengthAdjust="spacingAndGlyphs">K</text>
<text class="r" x="970" y="1190" font-size="41" textLength="16" lengthAdjust="spacingAndGlyphs">D</text>
<text class="r" x="970" y="1225" font-size="41" textLength="16" lengthAdjust="spacingAndGlyphs">E</text>
<text class="k" x="970" y="1270" font-size="48" textLength="16" lengthAdjust="spacingAndGlyphs">A</text>
<text class="g" x="970" y="1320" font-size="55" textLength="16" lengthAdjust="spacingAndGlyphs">G</text>
<text class="k" x="970" y="1370" font-size="62" textLength="16" lengthAdjust="spacingAndGlyphs">P</text>
<text class="g" x="970" y="1460" font-size="110" textLength="16" lengthAdjust="spacingAndGlyphs">S</text>
<!-- C11 -->
<text class="k" x="987" y="1000" font-size="55" textLength="16" lengthAdjust="spacingAndGlyphs">L</text>
<text class="g" x="987" y="960" font-size="301" textLength="16" lengthAdjust="spacingAndGlyphs">T</text>
<text class="b" x="987" y="720" font-size="493" textLength="16" lengthAdjust="spacingAndGlyphs">R</text>
<text class="r" x="987" y="1225" font-size="48" textLength="16" lengthAdjust="spacingAndGlyphs">E</text>
<text class="k" x="987" y="1255" font-size="48" textLength="16" lengthAdjust="spacingAndGlyphs">V</text>
<text class="r" x="987" y="1290" font-size="41" textLength="16" lengthAdjust="spacingAndGlyphs">D</text>
<!-- C12 -->
<text class="b" x="1004" y="970" font-size="55" textLength="16" lengthAdjust="spacingAndGlyphs">H</text>
<text class="k" x="1004" y="870" font-size="82" textLength="16" lengthAdjust="spacingAndGlyphs">M</text>
<text class="k" x="1004" y="800" font-size="110" textLength="16" lengthAdjust="spacingAndGlyphs">P</text>
<text class="g" x="1004" y="710" font-size="301" textLength="16" lengthAdjust="spacingAndGlyphs">G</text>
<text class="k" x="1004" y="1160" font-size="41" textLength="16" lengthAdjust="spacingAndGlyphs">L</text>
<text class="r" x="1004" y="1205" font-size="48" textLength="16" lengthAdjust="spacingAndGlyphs">D</text>
<text class="r" x="1004" y="1260" font-size="68" textLength="16" lengthAdjust="spacingAndGlyphs">E</text>
<text class="k" x="1004" y="1315" font-size="68" textLength="16" lengthAdjust="spacingAndGlyphs">V</text>
<text class="g" x="1004" y="1410" font-size="116" textLength="16" lengthAdjust="spacingAndGlyphs">S</text>
<!-- C13 -->
<text class="b" x="1021" y="1050" font-size="740" textLength="16" lengthAdjust="spacingAndGlyphs">R</text>
<text class="g" x="1021" y="1200" font-size="68" textLength="16" lengthAdjust="spacingAndGlyphs">T</text>
<text class="b" x="1021" y="1250" font-size="55" textLength="16" lengthAdjust="spacingAndGlyphs">K</text>
<text class="g" x="1021" y="1295" font-size="62" textLength="16" lengthAdjust="spacingAndGlyphs">G</text>
<text class="k" x="1021" y="1345" font-size="62" textLength="16" lengthAdjust="spacingAndGlyphs">P</text>
<text class="g" x="1021" y="1440" font-size="82" textLength="16" lengthAdjust="spacingAndGlyphs">S</text>
<!-- C14 -->
<text class="b" x="1038" y="1055" font-size="41" textLength="16" lengthAdjust="spacingAndGlyphs">K</text>
<text class="k" x="1038" y="1010" font-size="96" textLength="16" lengthAdjust="spacingAndGlyphs">L</text>
<text class="g" x="1038" y="940" font-size="123" textLength="16" lengthAdjust="spacingAndGlyphs">S</text>
<text class="b" x="1038" y="830" font-size="452" textLength="16" lengthAdjust="spacingAndGlyphs">R</text>
<text class="k" x="1038" y="1180" font-size="55" textLength="16" lengthAdjust="spacingAndGlyphs">V</text>
<text class="r" x="1038" y="1215" font-size="62" textLength="16" lengthAdjust="spacingAndGlyphs">D</text>
<text class="k" x="1038" y="1255" font-size="55" textLength="16" lengthAdjust="spacingAndGlyphs">P</text>
<text class="r" x="1038" y="1310" font-size="62" textLength="16" lengthAdjust="spacingAndGlyphs">E</text>
<text class="k" x="1038" y="1365" font-size="75" textLength="16" lengthAdjust="spacingAndGlyphs">A</text>
<text class="g" x="1038" y="1425" font-size="68" textLength="16" lengthAdjust="spacingAndGlyphs">G</text>
<!-- C15 -->
<text class="k" x="1055" y="980" font-size="55" textLength="16" lengthAdjust="spacingAndGlyphs">V</text>
<text class="r" x="1055" y="930" font-size="96" textLength="16" lengthAdjust="spacingAndGlyphs">D</text>
<text class="k" x="1055" y="850" font-size="219" textLength="16" lengthAdjust="spacingAndGlyphs">A</text>
<text class="k" x="1055" y="650" font-size="219" textLength="16" lengthAdjust="spacingAndGlyphs">L</text>
<text class="m" x="1055" y="1175" font-size="27" textLength="16" lengthAdjust="spacingAndGlyphs">N</text>
<text class="g" x="1055" y="1240" font-size="82" textLength="16" lengthAdjust="spacingAndGlyphs">T</text>
<text class="g" x="1055" y="1280" font-size="55" textLength="16" lengthAdjust="spacingAndGlyphs">S</text>
<text class="r" x="1055" y="1340" font-size="75" textLength="16" lengthAdjust="spacingAndGlyphs">E</text>
<text class="k" x="1055" y="1410" font-size="89" textLength="16" lengthAdjust="spacingAndGlyphs">P</text>
<!-- C16 -->
<text class="g" x="1072.5" y="1075" font-size="1247" textLength="16" lengthAdjust="spacingAndGlyphs">S</text>
<!-- C17 -->
<text class="b" x="1089.6" y="1060" font-size="27" textLength="16" lengthAdjust="spacingAndGlyphs">H</text>
<text class="k" x="1089.6" y="1005" font-size="41" textLength="16" lengthAdjust="spacingAndGlyphs">M</text>
<text class="r" x="1089.6" y="970" font-size="68" textLength="16" lengthAdjust="spacingAndGlyphs">D</text>
<text class="k" x="1089.6" y="920" font-size="137" textLength="16" lengthAdjust="spacingAndGlyphs">F</text>
<text class="k" x="1089.6" y="810" font-size="123" textLength="16" lengthAdjust="spacingAndGlyphs">L</text>
<text class="k" x="1089.6" y="700" font-size="151" textLength="16" lengthAdjust="spacingAndGlyphs">A</text>
<text class="k" x="1089.6" y="580" font-size="370" textLength="16" lengthAdjust="spacingAndGlyphs">P</text>
<text class="r" x="1089.6" y="1180" font-size="27" textLength="16" lengthAdjust="spacingAndGlyphs">E</text>
<text class="b" x="1089.6" y="1210" font-size="27" textLength="16" lengthAdjust="spacingAndGlyphs">R</text>
<text class="g" x="1089.6" y="1240" font-size="27" textLength="16" lengthAdjust="spacingAndGlyphs">S</text>
<!-- C18 -->
<text class="k" x="1106.7" y="1070" font-size="55" textLength="16" lengthAdjust="spacingAndGlyphs">L</text>
<text class="g" x="1106.7" y="1010" font-size="68" textLength="16" lengthAdjust="spacingAndGlyphs">S</text>
<text class="g" x="1106.7" y="950" font-size="96" textLength="16" lengthAdjust="spacingAndGlyphs">T</text>
<text class="m" x="1106.7" y="870" font-size="123" textLength="16" lengthAdjust="spacingAndGlyphs">N</text>
<text class="g" x="1106.7" y="770" font-size="151" textLength="16" lengthAdjust="spacingAndGlyphs">G</text>
<text class="r" x="1106.7" y="650" font-size="301" textLength="16" lengthAdjust="spacingAndGlyphs">D</text>
<text class="m" x="1106.7" y="1175" font-size="41" textLength="16" lengthAdjust="spacingAndGlyphs">Q</text>
<text class="k" x="1106.7" y="1200" font-size="27" textLength="16" lengthAdjust="spacingAndGlyphs">P</text>
<text class="b" x="1106.7" y="1250" font-size="48" textLength="16" lengthAdjust="spacingAndGlyphs">K</text>
<text class="k" x="1106.7" y="1310" font-size="68" textLength="16" lengthAdjust="spacingAndGlyphs">A</text>
<text class="b" x="1106.7" y="1365" font-size="75" textLength="16" lengthAdjust="spacingAndGlyphs">R</text>
<!-- C19 -->
<text class="k" x="1123.8" y="1070" font-size="55" textLength="16" lengthAdjust="spacingAndGlyphs">L</text>
<text class="r" x="1123.8" y="980" font-size="68" textLength="16" lengthAdjust="spacingAndGlyphs">E</text>
<text class="m" x="1123.8" y="920" font-size="110" textLength="16" lengthAdjust="spacingAndGlyphs">N</text>
<text class="g" x="1123.8" y="820" font-size="110" textLength="16" lengthAdjust="spacingAndGlyphs">G</text>
<text class="r" x="1123.8" y="720" font-size="151" textLength="16" lengthAdjust="spacingAndGlyphs">D</text>
<text class="g" x="1123.8" y="600" font-size="274" textLength="16" lengthAdjust="spacingAndGlyphs">C</text>
<text class="g" x="1123.8" y="1160" font-size="34" textLength="16" lengthAdjust="spacingAndGlyphs">T</text>
<text class="b" x="1123.8" y="1190" font-size="41" textLength="16" lengthAdjust="spacingAndGlyphs">K</text>
<text class="k" x="1123.8" y="1255" font-size="48" textLength="16" lengthAdjust="spacingAndGlyphs">L</text>
<text class="g" x="1123.8" y="1325" font-size="75" textLength="16" lengthAdjust="spacingAndGlyphs">S</text>
<!-- C20 -->
<text class="m" x="1141" y="1020" font-size="55" textLength="16" lengthAdjust="spacingAndGlyphs">N</text>
<text class="k" x="1141" y="820" font-size="521" textLength="16" lengthAdjust="spacingAndGlyphs">L</text>
<text class="r" x="1141" y="1180" font-size="41" textLength="16" lengthAdjust="spacingAndGlyphs">D</text>
<text class="b" x="1141" y="1225" font-size="48" textLength="16" lengthAdjust="spacingAndGlyphs">K</text>
<text class="b" x="1141" y="1270" font-size="55" textLength="16" lengthAdjust="spacingAndGlyphs">R</text>
<text class="k" x="1141" y="1320" font-size="55" textLength="16" lengthAdjust="spacingAndGlyphs">P</text>
<!-- C21 -->
<text class="r" x="1158" y="1040" font-size="110" textLength="16" lengthAdjust="spacingAndGlyphs">E</text>
<text class="k" x="1158" y="850" font-size="151" textLength="16" lengthAdjust="spacingAndGlyphs">A</text>
<text class="g" x="1158" y="700" font-size="192" textLength="16" lengthAdjust="spacingAndGlyphs">S</text>
<text class="k" x="1158" y="540" font-size="192" textLength="16" lengthAdjust="spacingAndGlyphs">L</text>
<text class="b" x="1158" y="1250" font-size="82" textLength="16" lengthAdjust="spacingAndGlyphs">K</text>
<text class="b" x="1158" y="1285" font-size="48" textLength="16" lengthAdjust="spacingAndGlyphs">R</text>
<text class="k" x="1158" y="1330" font-size="62" textLength="16" lengthAdjust="spacingAndGlyphs">P</text>
<!-- C22 -->
<text class="b" x="1175" y="1045" font-size="48" textLength="16" lengthAdjust="spacingAndGlyphs">H</text>
<text class="g" x="1175" y="1010" font-size="68" textLength="16" lengthAdjust="spacingAndGlyphs">S</text>
<text class="g" x="1175" y="950" font-size="96" textLength="16" lengthAdjust="spacingAndGlyphs">T</text>
<text class="k" x="1175" y="870" font-size="82" textLength="16" lengthAdjust="spacingAndGlyphs">A</text>
<text class="k" x="1175" y="800" font-size="96" textLength="16" lengthAdjust="spacingAndGlyphs">L</text>
<text class="m" x="1175" y="590" font-size="205" textLength="16" lengthAdjust="spacingAndGlyphs">N</text>
<text class="r" x="1175" y="1165" font-size="34" textLength="16" lengthAdjust="spacingAndGlyphs">D</text>
<text class="m" x="1175" y="1200" font-size="48" textLength="16" lengthAdjust="spacingAndGlyphs">Q</text>
<text class="b" x="1175" y="1250" font-size="68" textLength="16" lengthAdjust="spacingAndGlyphs">K</text>
<text class="g" x="1175" y="1300" font-size="55" textLength="16" lengthAdjust="spacingAndGlyphs">G</text>
<text class="b" x="1175" y="1360" font-size="68" textLength="16" lengthAdjust="spacingAndGlyphs">R</text>
<!-- C23 -->
<text class="g" x="1192" y="1040" font-size="55" textLength="16" lengthAdjust="spacingAndGlyphs">Y</text>
<text class="k" x="1192" y="1000" font-size="82" textLength="16" lengthAdjust="spacingAndGlyphs">P</text>
<text class="g" x="1192" y="930" font-size="205" textLength="16" lengthAdjust="spacingAndGlyphs">T</text>
<text class="r" x="1192" y="760" font-size="192" textLength="16" lengthAdjust="spacingAndGlyphs">D</text>
<text class="k" x="1192" y="610" font-size="233" textLength="16" lengthAdjust="spacingAndGlyphs">V</text>
<text class="b" x="1192" y="1205" font-size="55" textLength="16" lengthAdjust="spacingAndGlyphs">R</text>
<text class="g" x="1192" y="1260" font-size="55" textLength="16" lengthAdjust="spacingAndGlyphs">S</text>
<text class="b" x="1192" y="1315" font-size="62" textLength="16" lengthAdjust="spacingAndGlyphs">K</text>
<text class="r" x="1192" y="1380" font-size="68" textLength="16" lengthAdjust="spacingAndGlyphs">E</text>
<!-- C24 -->
<text class="r" x="1209" y="1060" font-size="41" textLength="16" lengthAdjust="spacingAndGlyphs">D</text>
<text class="k" x="1209" y="1020" font-size="41" textLength="16" lengthAdjust="spacingAndGlyphs">W</text>
<text class="g" x="1209" y="985" font-size="48" textLength="16" lengthAdjust="spacingAndGlyphs">Y</text>
<text class="k" x="1209" y="950" font-size="96" textLength="16" lengthAdjust="spacingAndGlyphs">V</text>
<text class="k" x="1209" y="880" font-size="82" textLength="16" lengthAdjust="spacingAndGlyphs">P</text>
<text class="g" x="1209" y="810" font-size="96" textLength="16" lengthAdjust="spacingAndGlyphs">G</text>
<text class="b" x="1209" y="720" font-size="110" textLength="16" lengthAdjust="spacingAndGlyphs">H</text>
<text class="m" x="1209" y="620" font-size="315" textLength="16" lengthAdjust="spacingAndGlyphs">Q</text>
<text class="b" x="1209" y="1190" font-size="55" textLength="16" lengthAdjust="spacingAndGlyphs">R</text>
<text class="r" x="1209" y="1225" font-size="62" textLength="16" lengthAdjust="spacingAndGlyphs">E</text>
<text class="g" x="1209" y="1310" font-size="96" textLength="16" lengthAdjust="spacingAndGlyphs">S</text>
<!-- C25 -->
<text class="k" x="1226" y="1065" font-size="34" textLength="16" lengthAdjust="spacingAndGlyphs">A</text>
<text class="k" x="1226" y="1030" font-size="82" textLength="16" lengthAdjust="spacingAndGlyphs">W</text>
<text class="k" x="1226" y="960" font-size="274" textLength="16" lengthAdjust="spacingAndGlyphs">V</text>
<text class="r" x="1226" y="760" font-size="233" textLength="16" lengthAdjust="spacingAndGlyphs">E</text>
<text class="b" x="1226" y="1180" font-size="27" textLength="16" lengthAdjust="spacingAndGlyphs">K</text>
<text class="k" x="1226" y="1215" font-size="48" textLength="16" lengthAdjust="spacingAndGlyphs">L</text>
<text class="r" x="1226" y="1250" font-size="48" textLength="16" lengthAdjust="spacingAndGlyphs">D</text>
<text class="g" x="1226" y="1310" font-size="55" textLength="16" lengthAdjust="spacingAndGlyphs">G</text>
<text class="k" x="1226" y="1390" font-size="96" textLength="16" lengthAdjust="spacingAndGlyphs">P</text>
<text class="g" x="1226" y="1520" font-size="137" textLength="16" lengthAdjust="spacingAndGlyphs">S</text>
<!-- C26 -->
<text class="k" x="1243.5" y="1045" font-size="48" textLength="16" lengthAdjust="spacingAndGlyphs">W</text>
<text class="g" x="1243.5" y="1000" font-size="82" textLength="16" lengthAdjust="spacingAndGlyphs">G</text>
<text class="k" x="1243.5" y="950" font-size="96" textLength="16" lengthAdjust="spacingAndGlyphs">A</text>
<text class="k" x="1243.5" y="880" font-size="82" textLength="16" lengthAdjust="spacingAndGlyphs">V</text>
<text class="r" x="1243.5" y="820" font-size="123" textLength="16" lengthAdjust="spacingAndGlyphs">E</text>
<text class="g" x="1243.5" y="730" font-size="137" textLength="16" lengthAdjust="spacingAndGlyphs">C</text>
<text class="g" x="1243.5" y="620" font-size="274" textLength="16" lengthAdjust="spacingAndGlyphs">S</text>
<text class="r" x="1243.5" y="1220" font-size="55" textLength="16" lengthAdjust="spacingAndGlyphs">D</text>
<text class="g" x="1243.5" y="1265" font-size="55" textLength="16" lengthAdjust="spacingAndGlyphs">T</text>
<text class="k" x="1243.5" y="1310" font-size="55" textLength="16" lengthAdjust="spacingAndGlyphs">P</text>
<text class="b" x="1243.5" y="1390" font-size="96" textLength="16" lengthAdjust="spacingAndGlyphs">K</text>
<!-- C27 -->
<text class="g" x="1260.6" y="1030" font-size="41" textLength="16" lengthAdjust="spacingAndGlyphs">S</text>
<text class="b" x="1260.6" y="1010" font-size="110" textLength="16" lengthAdjust="spacingAndGlyphs">H</text>
<text class="k" x="1260.6" y="920" font-size="151" textLength="16" lengthAdjust="spacingAndGlyphs">F</text>
<text class="g" x="1260.6" y="810" font-size="151" textLength="16" lengthAdjust="spacingAndGlyphs">G</text>
<text class="k" x="1260.6" y="690" font-size="315" textLength="16" lengthAdjust="spacingAndGlyphs">L</text>
<text class="k" x="1260.6" y="1200" font-size="55" textLength="16" lengthAdjust="spacingAndGlyphs">A</text>
<text class="g" x="1260.6" y="1250" font-size="55" textLength="16" lengthAdjust="spacingAndGlyphs">T</text>
<text class="r" x="1260.6" y="1320" font-size="82" textLength="16" lengthAdjust="spacingAndGlyphs">D</text>
<text class="b" x="1260.6" y="1390" font-size="82" textLength="16" lengthAdjust="spacingAndGlyphs">R</text>
<!-- C28 -->
<text class="b" x="1277.7" y="1065" font-size="48" textLength="16" lengthAdjust="spacingAndGlyphs">H</text>
<text class="g" x="1277.7" y="1010" font-size="68" textLength="16" lengthAdjust="spacingAndGlyphs">Y</text>
<text class="k" x="1277.7" y="960" font-size="68" textLength="16" lengthAdjust="spacingAndGlyphs">A</text>
<text class="b" x="1277.7" y="910" font-size="96" textLength="16" lengthAdjust="spacingAndGlyphs">K</text>
<text class="m" x="1277.7" y="830" font-size="178" textLength="16" lengthAdjust="spacingAndGlyphs">Q</text>
<text class="g" x="1277.7" y="690" font-size="384" textLength="16" lengthAdjust="spacingAndGlyphs">S</text>
<text class="r" x="1277.7" y="1200" font-size="41" textLength="16" lengthAdjust="spacingAndGlyphs">E</text>
<text class="k" x="1277.7" y="1235" font-size="41" textLength="16" lengthAdjust="spacingAndGlyphs">L</text>
<text class="b" x="1277.7" y="1300" font-size="82" textLength="16" lengthAdjust="spacingAndGlyphs">R</text>
<text class="k" x="1277.7" y="1335" font-size="41" textLength="16" lengthAdjust="spacingAndGlyphs">P</text>
<!-- C29 -->
<text class="k" x="1294.8" y="1035" font-size="48" textLength="16" lengthAdjust="spacingAndGlyphs">W</text>
<text class="k" x="1294.8" y="990" font-size="68" textLength="16" lengthAdjust="spacingAndGlyphs">A</text>
<text class="k" x="1294.8" y="930" font-size="123" textLength="16" lengthAdjust="spacingAndGlyphs">V</text>
<text class="b" x="1294.8" y="830" font-size="151" textLength="16" lengthAdjust="spacingAndGlyphs">K</text>
<text class="m" x="1294.8" y="710" font-size="151" textLength="16" lengthAdjust="spacingAndGlyphs">N</text>
<text class="g" x="1294.8" y="1160" font-size="41" textLength="16" lengthAdjust="spacingAndGlyphs">T</text>
<text class="b" x="1294.8" y="1205" font-size="34" textLength="16" lengthAdjust="spacingAndGlyphs">R</text>
<text class="g" x="1294.8" y="1270" font-size="68" textLength="16" lengthAdjust="spacingAndGlyphs">S</text>
<!-- C30 -->
<text class="b" x="1312" y="1000" font-size="68" textLength="16" lengthAdjust="spacingAndGlyphs">H</text>
<text class="b" x="1312" y="930" font-size="96" textLength="16" lengthAdjust="spacingAndGlyphs">K</text>
<text class="k" x="1312" y="860" font-size="151" textLength="16" lengthAdjust="spacingAndGlyphs">P</text>
<text class="k" x="1312" y="740" font-size="384" textLength="16" lengthAdjust="spacingAndGlyphs">L</text>
<text class="r" x="1312" y="1180" font-size="34" textLength="16" lengthAdjust="spacingAndGlyphs">D</text>
<text class="g" x="1312" y="1225" font-size="55" textLength="16" lengthAdjust="spacingAndGlyphs">T</text>
<text class="k" x="1312" y="1255" font-size="48" textLength="16" lengthAdjust="spacingAndGlyphs">A</text>
<text class="r" x="1312" y="1305" font-size="48" textLength="16" lengthAdjust="spacingAndGlyphs">E</text>
<text class="g" x="1312" y="1390" font-size="96" textLength="16" lengthAdjust="spacingAndGlyphs">S</text>
<!-- C31 -->
<text class="k" x="1329" y="1030" font-size="27" textLength="16" lengthAdjust="spacingAndGlyphs">F</text>
<text class="b" x="1329" y="1000" font-size="55" textLength="16" lengthAdjust="spacingAndGlyphs">H</text>
<text class="k" x="1329" y="960" font-size="68" textLength="16" lengthAdjust="spacingAndGlyphs">A</text>
<text class="k" x="1329" y="900" font-size="68" textLength="16" lengthAdjust="spacingAndGlyphs">M</text>
<text class="k" x="1329" y="840" font-size="110" textLength="16" lengthAdjust="spacingAndGlyphs">L</text>
<text class="r" x="1329" y="760" font-size="178" textLength="16" lengthAdjust="spacingAndGlyphs">E</text>
<text class="b" x="1329" y="620" font-size="233" textLength="16" lengthAdjust="spacingAndGlyphs">K</text>
<text class="r" x="1329" y="1145" font-size="34" textLength="16" lengthAdjust="spacingAndGlyphs">D</text>
<text class="g" x="1329" y="1195" font-size="48" textLength="16" lengthAdjust="spacingAndGlyphs">S</text>
<text class="g" x="1329" y="1235" font-size="48" textLength="16" lengthAdjust="spacingAndGlyphs">T</text>
<text class="g" x="1329" y="1290" font-size="48" textLength="16" lengthAdjust="spacingAndGlyphs">G</text>
<text class="k" x="1329" y="1380" font-size="110" textLength="16" lengthAdjust="spacingAndGlyphs">P</text>
</g>
</svg>
</body></html>
